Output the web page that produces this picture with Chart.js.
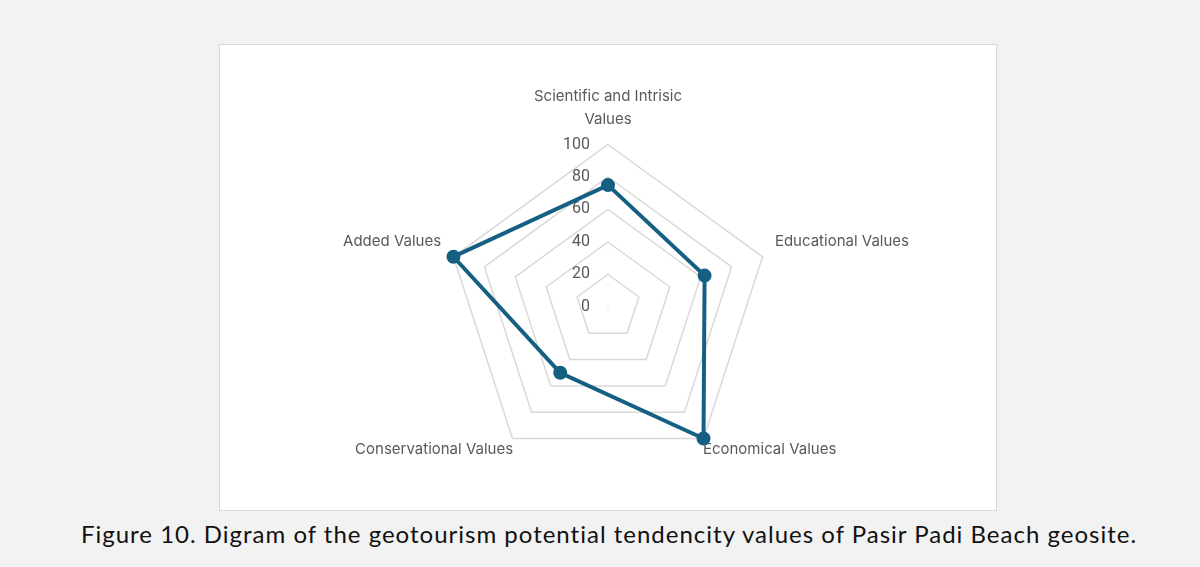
<!DOCTYPE html>
<html>
<head>
<meta charset="utf-8">
<script src="https://cdn.jsdelivr.net/npm/chart.js@4"></script>
<style>
  html, body { margin: 0; padding: 0; background: #f2f2f2; }
  body { width: 1200px; height: 567px; position: relative; overflow: hidden; }
  #box {
    position: absolute; left: 219px; top: 44px; width: 776px; height: 465px;
    background: #fff; border: 1px solid #d9d9d9;
  }
  #caption {
    position: absolute; left: 0; width: 1218px; top: 519px; text-align: center;
    font-family: Lato, "Open Sans", sans-serif; font-size: 24px; letter-spacing: 1px; color: #111;
  }
</style>
</head>
<body>
<div id="box"><canvas id="chart"></canvas></div>
<div id="caption">Figure 10. Digram of the geotourism potential tendencity values of Pasir Padi Beach geosite.</div>
<script>
// ejes del radar
const categories = [
  ['Scientific and Intrisic', 'Values'],
  'Educational Values',
  'Economical Values',
  'Conservational Values',
  'Added Values'
];
// valores del geositio
const values = [75, 62.5, 100, 50, 100];
const tickValues = [0, 20, 40, 60, 80, 100];

const data = {
  labels: categories,
  datasets: [{
    label: 'Pasir Padi Beach',
    data: values,
    borderColor: '#156082',
    backgroundColor: '#156082',
    borderWidth: 4,
    pointRadius: 5,
    pointHoverRadius: 5,
    fill: false
  }]
};

const options = {
  responsive: true,
  maintainAspectRatio: false,
  animation: false,
  layout: { padding: { top: 16, bottom: 4, left: 0, right: 0 } },
  plugins: { legend: { display: false }, tooltip: { enabled: false } },
  scales: {
    r: {
      min: -0.001,
      max: 100,
      afterBuildTicks: scale => { scale.ticks = tickValues.map(v => ({ value: v })); },
      angleLines: { display: false },
      grid: { color: '#d9d9d9', lineWidth: 1.5 },
      ticks: {
        showLabelBackdrop: false,
        color: '#595959',
        font: { family: 'Roboto', size: 16 },
        // se empuja la etiqueta a la izquierda del eje
        callback: v => String(v).padStart(3, '\u2007') + '\u2007'.repeat(7)
      },
      pointLabels: {
        color: '#595959',
        font: { family: 'Inter', size: 15, lineHeight: 1.55 },
        // las etiquetas de abajo quedan a la altura del vertice
        padding: c => (c.index === 2 || c.index === 3) ? -11 : 3
      }
    }
  }
};

const ctx = document.getElementById('chart').getContext('2d');
const myChart = new Chart(ctx, { type: 'radar', data: data, options: options });
</script>
</body>
</html>
